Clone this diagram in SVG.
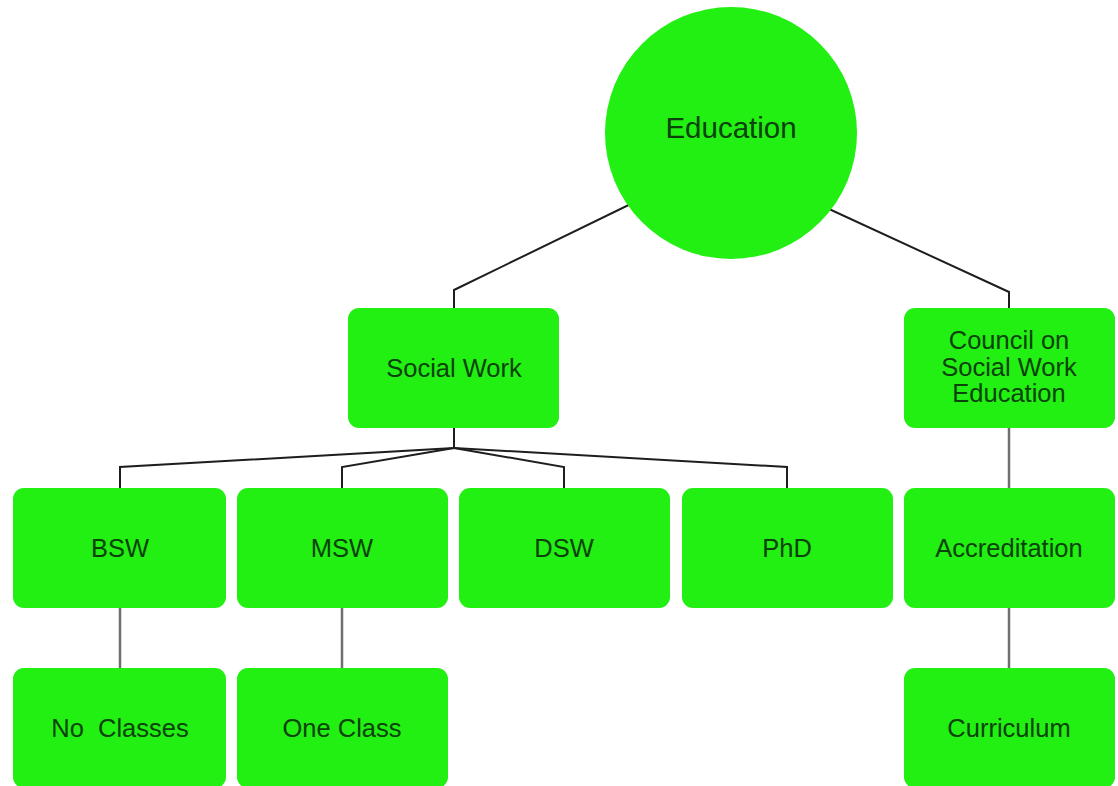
<svg xmlns="http://www.w3.org/2000/svg" width="1118" height="786" viewBox="0 0 1118 786">
<style>
.node rect, .node circle { fill: #22ef12; }
.node text { font-family: "Liberation Sans", Arial, sans-serif; font-size: 25.5px; fill: #0a420a; text-anchor: middle; }
.dark { fill: none; stroke: #1e1e1e; stroke-width: 2; }
.grey { fill: none; stroke: #6f6f6f; stroke-width: 2.5; }
</style>
<rect width="1118" height="786" fill="#ffffff"/>
<g id="connectors">
<polyline class="dark" points="680,180 454,290 454,308"/>
<polyline class="dark" points="790,191 1009,292 1009,308"/>
<polyline class="dark" points="454,428 454,448 120,467 120,488"/>
<polyline class="dark" points="454,448 342,467 342,488"/>
<polyline class="dark" points="454,448 564,467 564,488"/>
<polyline class="dark" points="454,448 787,467 787,488"/>
<line class="grey" x1="120" y1="608" x2="120" y2="668"/>
<line class="grey" x1="342" y1="608" x2="342" y2="668"/>
<line class="grey" x1="1009" y1="428" x2="1009" y2="488"/>
<line class="grey" x1="1009" y1="608" x2="1009" y2="668"/>
</g>
<g id="education" class="node">
<circle cx="731" cy="133" r="126"/>
<text x="731" y="138" style="font-size:29.5px">Education</text>
</g>
<g id="social-work" class="node">
<rect x="348" y="308" width="211" height="120" rx="11"/>
<text x="454" y="377">Social Work</text>
</g>
<g id="council" class="node">
<rect x="904" y="308" width="211" height="120" rx="11"/>
<text x="1009" y="349">Council on</text>
<text x="1009" y="376">Social Work</text>
<text x="1009" y="402">Education</text>
</g>
<g id="bsw" class="node">
<rect x="13" y="488" width="213" height="120" rx="11"/>
<text x="120" y="557">BSW</text>
</g>
<g id="msw" class="node">
<rect x="237" y="488" width="211" height="120" rx="11"/>
<text x="342" y="557">MSW</text>
</g>
<g id="dsw" class="node">
<rect x="459" y="488" width="211" height="120" rx="11"/>
<text x="564" y="557">DSW</text>
</g>
<g id="phd" class="node">
<rect x="682" y="488" width="211" height="120" rx="11"/>
<text x="787" y="557">PhD</text>
</g>
<g id="accreditation" class="node">
<rect x="904" y="488" width="211" height="120" rx="11"/>
<text x="1009" y="557">Accreditation</text>
</g>
<g id="no-classes" class="node">
<rect x="13" y="668" width="213" height="120" rx="11"/>
<text x="120" y="737" xml:space="preserve">No  Classes</text>
</g>
<g id="one-class" class="node">
<rect x="237" y="668" width="211" height="120" rx="11"/>
<text x="342" y="737">One Class</text>
</g>
<g id="curriculum" class="node">
<rect x="904" y="668" width="211" height="120" rx="11"/>
<text x="1009" y="737">Curriculum</text>
</g>
</svg>
